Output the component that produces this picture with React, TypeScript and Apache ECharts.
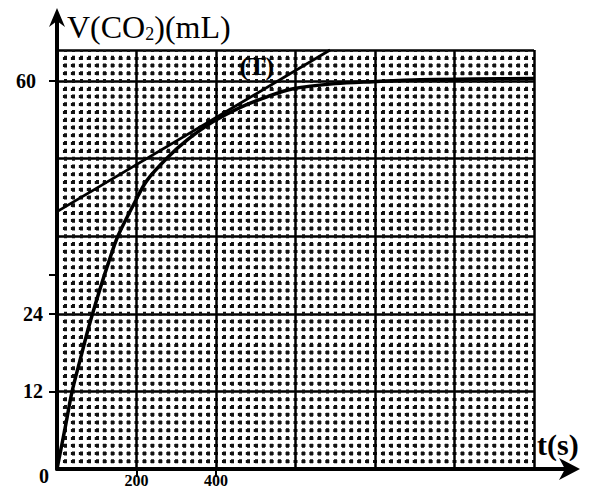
import React, { useEffect, useRef } from 'react';
import * as echarts from 'echarts';

// Curve V(CO2) in mL against time t in s
const timeS = [0, 20, 38, 60, 80, 108, 130, 153, 196, 226, 277, 330, 392, 460, 530, 594, 700, 795, 913, 1050, 1200];
const volumeML = [0, 6.2, 12, 17.3, 22, 27.8, 32, 36, 41.3, 44.6, 48.1, 51.0, 53.7, 55.9, 57.6, 58.8, 59.6, 59.9, 60.2, 60.3, 60.4];

// Tangent (T)
const tangentT = [0, 687];
const tangentV = [39.8, 64.8];
const tangentLabelAt = [503, 62.3];

// Axis ticks / labels
const xTickLabels = [200, 400];
const yTickLabels = [0, 12, 24, 60];
const yTickMarks = [12, 24, 30, 60];

const W = 594;
const H = 489;
const GL = 57;
const GR = 60;
const GT = 50;
const GB = 20;

export default function App() {
  const ref = useRef<HTMLDivElement>(null);
  useEffect(() => {
    const chart = echarts.init(ref.current!, null, { renderer: 'svg' });
    const serif = '"Liberation Serif", "DejaVu Serif", serif';
    const axisY = H - GB;
    const rightX = W - GR;
    const stepY = (H - GT - GB) / 54;
    const stepX = (W - GL - GR) / 60;
    const X_MIN = 0, X_MAX = 1200, X_INT = 200;
    const Y_MIN = 0, Y_MAX = 64.8, Y_INT = 12;
    const dash = 4;
    const num = { fontFamily: serif, fontSize: 20, fontWeight: 'bold', color: '#000' };
    chart.setOption({
      animation: false,
      backgroundColor: '#ffffff',
      grid: { left: GL, right: GR, top: GT, bottom: GB, show: false, containLabel: false, outerBoundsMode: 'none' },
      xAxis: [
        {
          type: 'value', min: X_MIN, max: X_MAX, interval: X_INT, position: 'bottom',
          name: 't(s)',
          nameLocation: 'end',
          nameGap: 3,
          nameTextStyle: {
            fontFamily: serif, fontSize: 30, fontWeight: 'bold', color: '#000',
            align: 'left', verticalAlign: 'bottom', padding: [0, 0, 10, 0],
          },
          axisLine: { show: true, onZero: false, lineStyle: { color: '#000', width: 4 } },
          axisTick: { show: false },
          axisLabel: { show: false },
          splitLine: { show: true, lineStyle: { color: '#000', width: 2.5 } },
          minorTick: { show: false, splitNumber: 10 },
          minorSplitLine: {
            show: true,
            lineStyle: { color: '#111', width: 3, type: [dash, stepY - dash], dashOffset: dash / 2 },
          },
        },
        {
          type: 'value', min: X_MIN, max: X_MAX, interval: X_INT, position: 'bottom', offset: 0,
          axisLine: { show: false, onZero: false },
          axisTick: { show: true, customValues: xTickLabels, length: 8, lineStyle: { width: 2, color: '#000' } },
          axisLabel: {
            show: true, customValues: xTickLabels, margin: 3,
            fontFamily: serif, fontSize: 16, fontWeight: 'bold', color: '#000',
          },
          splitLine: { show: false },
        },
      ],
      yAxis: [
        {
          type: 'value', min: Y_MIN, max: Y_MAX, interval: Y_INT, position: 'left',
          name: '{a|V(CO}{s|2}{a|)(mL)}',
          nameLocation: 'end',
          nameGap: 23,
          nameTextStyle: {
            align: 'left',
            verticalAlign: 'middle',
            padding: [0, 0, 0, 10],
            rich: {
              a: { fontFamily: serif, fontSize: 32, color: '#000', lineHeight: 32 },
              s: { fontFamily: serif, fontSize: 18, color: '#000', verticalAlign: 'bottom', lineHeight: 14 },
            },
          },
          axisLine: { show: true, onZero: false, lineStyle: { color: '#000', width: 4 } },
          axisTick: { show: false },
          axisLabel: { show: false },
          splitLine: { show: true, lineStyle: { color: '#000', width: 2.5 } },
          minorTick: { show: false, splitNumber: 10 },
          minorSplitLine: {
            show: true,
            lineStyle: { color: '#111', width: 3, type: [dash, stepX - dash], dashOffset: dash / 2 },
          },
        },
        {
          type: 'value', min: Y_MIN, max: Y_MAX, interval: Y_INT, position: 'left', offset: 0,
          axisLine: { show: false, onZero: false },
          axisTick: { show: true, customValues: yTickMarks, length: 8, lineStyle: { width: 2, color: '#000' } },
          axisLabel: {
            show: true,
            customValues: yTickLabels,
            margin: 8,
            formatter: (v: number) => (v === 0 ? '{z|0}' : v === 60 ? '{m|60}' : '{n|' + v + '}'),
            ...num,
            rich: {
              z: { ...num, padding: [14, 0, 0, 0] },
              n: { ...num, padding: [0, 6, 0, 0] },
              m: { ...num, padding: [0, 13, 0, 0] },
            },
          },
          splitLine: { show: false },
        },
      ],
      graphic: [
        { type: 'line', shape: { x1: GL, y1: GT, x2: GL, y2: 20 }, style: { stroke: '#000', lineWidth: 4 } },
        { type: 'polygon', shape: { points: [[GL, 8], [GL - 8, 27], [GL, 21], [GL + 8, 27]] }, style: { fill: '#000' } },
        { type: 'line', shape: { x1: rightX, y1: axisY, x2: 568, y2: axisY }, style: { stroke: '#000', lineWidth: 4 } },
        { type: 'polygon', shape: { points: [[580, axisY], [559, axisY - 11], [565, axisY], [559, axisY + 11]] }, style: { fill: '#000' } },
      ],
      series: [
        {
          type: 'line',
          data: timeS.map((t, i) => [t, volumeML[i]]),
          smooth: 0.3,
          symbol: 'none',
          lineStyle: { color: '#000', width: 3.5 },
          z: 5,
        },
        {
          type: 'line',
          data: tangentT.map((t, i) => [t, tangentV[i]]),
          symbol: 'none',
          lineStyle: { color: '#000', width: 2.8 },
          z: 5,
          markPoint: {
            symbol: 'circle',
            symbolSize: 1,
            itemStyle: { color: 'rgba(0,0,0,0)' },
            label: {
              show: true, position: 'inside', formatter: '(T)',
              fontFamily: serif, fontSize: 26, fontWeight: 'bold', color: '#000',
            },
            data: [{ coord: tangentLabelAt }],
          },
        },
      ],
    });
    return () => chart.dispose();
  }, []);
  return <div ref={ref} style={{ position: 'fixed', left: 0, top: 0, width: W, height: H }} />;
}
